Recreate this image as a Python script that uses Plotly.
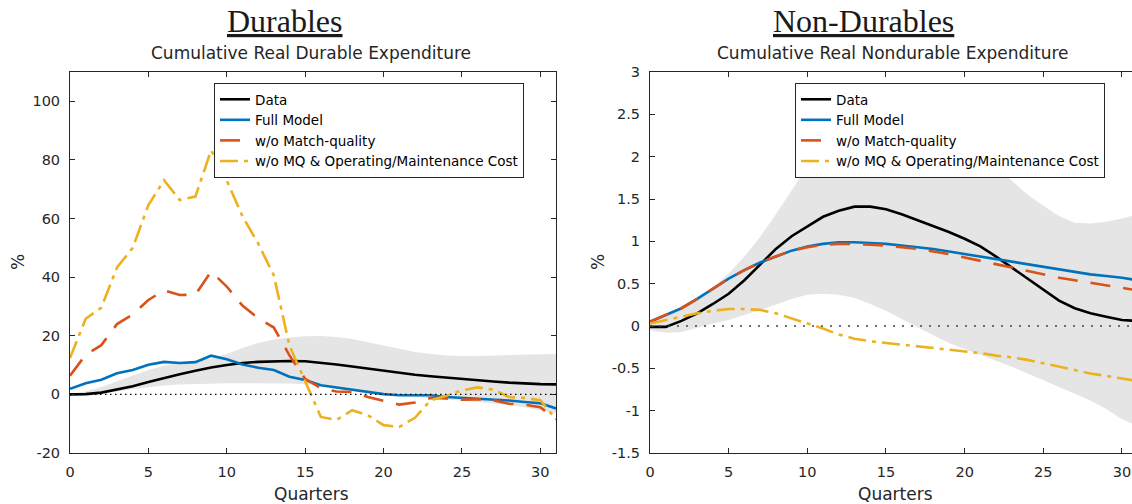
import plotly.graph_objects as go

# Quarters after the shock
quarters = list(range(32))

# ---- Durables: cumulative real durable expenditure (%) ----
dur_data = [0.0, 0.1, 0.6, 1.6, 2.8, 4.2, 5.6, 6.9, 8.1, 9.2, 10.0, 10.7, 11.1, 11.3, 11.4, 11.3,
            10.8, 10.2, 9.5, 8.8, 8.0, 7.3, 6.7, 6.2, 5.7, 5.2, 4.8, 4.4, 4.0, 3.7, 3.5, 3.4]
dur_full = [1.9, 3.8, 5.0, 7.2, 8.3, 10.1, 11.1, 10.7, 11.0, 13.2, 12.0, 10.2, 9.1, 8.3, 6.0, 4.9,
            3.1, 2.3, 1.7, 0.9, 0.1, -0.3, -0.3, -0.3, -0.9, -1.2, -1.5, -1.7, -2.1, -2.6, -3.0, -4.8]
dur_no_mq = [6.4, 13.5, 16.8, 24.0, 27.3, 32.2, 35.5, 33.9, 34.0, 41.9, 36.8, 30.3, 26.0, 22.8, 13.3, 5.3,
             2.1, 1.0, 0.8, -0.9, -2.2, -3.5, -2.8, -1.2, -1.4, -1.8, -1.7, -2.0, -3.2, -3.5, -4.4, -8.5]
dur_no_mq_om = [12.4, 25.8, 29.6, 43.3, 50.0, 64.6, 73.1, 66.3, 67.5, 83.3, 73.0, 60.8, 51.5, 40.6, 16.6, 4.5,
                -7.7, -8.7, -5.4, -7.1, -10.5, -11.1, -8.0, -2.0, -0.5, 1.4, 2.4, 1.6, -0.9, -1.2, -2.0, -8.5]
dur_band_hi = [0.2, 1.0, 2.5, 4.5, 6.5, 8.3, 9.8, 10.8, 11.5, 12.2, 13.8, 15.8, 17.5, 18.7, 19.4, 19.8,
               19.9, 19.6, 18.9, 17.8, 16.6, 15.5, 14.5, 13.8, 13.3, 13.1, 13.1, 13.2, 13.4, 13.5, 13.7, 13.8]
dur_band_lo = [-0.2, -0.2, 0.3, 1.0, 1.8, 2.5, 3.0, 3.4, 3.6, 3.7, 3.8, 3.8, 3.8, 3.8, 3.7, 3.5,
               3.0, 2.2, 1.3, 0.6, 0.0, -0.5, -1.0, -1.4, -1.8, -2.2, -2.6, -3.0, -3.6, -4.4, -5.4, -6.5]

# ---- Non-durables: cumulative real nondurable expenditure (%) ----
nd_data = [-0.01, -0.01, 0.06, 0.15, 0.26, 0.38, 0.54, 0.72, 0.91, 1.06, 1.18, 1.29, 1.36, 1.41, 1.41, 1.38,
           1.32, 1.25, 1.18, 1.11, 1.03, 0.94, 0.82, 0.69, 0.55, 0.42, 0.30, 0.21, 0.15, 0.11, 0.07, 0.06]
nd_full = [0.05, 0.13, 0.21, 0.32, 0.44, 0.56, 0.66, 0.75, 0.82, 0.89, 0.94, 0.97, 0.99, 0.99, 0.98, 0.97,
           0.95, 0.93, 0.91, 0.88, 0.85, 0.82, 0.79, 0.76, 0.73, 0.70, 0.67, 0.64, 0.61, 0.59, 0.57, 0.54]
nd_no_mq = [0.05, 0.13, 0.21, 0.32, 0.44, 0.56, 0.66, 0.75, 0.82, 0.89, 0.93, 0.96, 0.97, 0.97, 0.96, 0.95,
            0.93, 0.91, 0.88, 0.85, 0.81, 0.77, 0.73, 0.69, 0.65, 0.61, 0.57, 0.54, 0.51, 0.48, 0.45, 0.42]
nd_no_mq_om = [0.03, 0.07, 0.11, 0.15, 0.18, 0.20, 0.20, 0.19, 0.15, 0.09, 0.03, -0.03, -0.10, -0.15, -0.18, -0.20,
               -0.22, -0.24, -0.26, -0.28, -0.30, -0.32, -0.35, -0.37, -0.40, -0.44, -0.48, -0.52, -0.56, -0.59, -0.62, -0.65]
nd_band_hi = [0.03, 0.12, 0.22, 0.32, 0.45, 0.62, 0.82, 1.05, 1.32, 1.6, 1.88, 2.1, 2.3, 2.45, 2.55, 2.6,
              2.6, 2.55, 2.45, 2.35, 2.2, 2.05, 1.88, 1.71, 1.55, 1.42, 1.3, 1.22, 1.21, 1.23, 1.27, 1.32]
nd_band_lo = [-0.05, -0.08, -0.07, -0.02, 0.03, 0.07, 0.13, 0.19, 0.25, 0.32, 0.37, 0.38, 0.37, 0.33, 0.26, 0.18,
              0.09, -0.01, -0.11, -0.2, -0.27, -0.34, -0.41, -0.48, -0.56, -0.64, -0.72, -0.80, -0.88, -0.98, -1.1, -1.18]

series_names = ["Data", "Full Model", "w/o Match-quality", "w/o MQ & Operating/Maintenance Cost"]

# Axis ticks
x_ticks = [0, 5, 10, 15, 20, 25, 30]
dur_y_ticks = [-20, 0, 20, 40, 60, 80, 100]
dur_y_labels = ["-20", "0", "20", "40", "60", "80", "100"]
nd_y_ticks = [-1.5, -1, -0.5, 0, 0.5, 1, 1.5, 2, 2.5, 3]
nd_y_labels = ["-1.5", "-1", "-0.5", "0", "0.5", "1", "1.5", "2", "2.5", "3"]

# MATLAB default palette
BLACK = "#000000"
BLUE = "#0072BD"
RED = "#D95319"
YELLOW = "#EDB120"
BAND = "#E5E5E5"
AXIS = "#262626"
SANS = "DejaVu Sans"
SERIF = "Liberation Serif"

styles = [
    dict(color=BLACK, width=2.6, dash="solid"),
    dict(color=BLUE, width=2.6, dash="solid"),
    dict(color=RED, width=2.6, dash="20px,13px"),
    dict(color=YELLOW, width=2.6, dash="18px,6px,4px,6px"),
]

fig = go.Figure()


def add_panel(xa, ya, legend, band_hi, band_lo, series):
    # confidence band as a closed polygon
    fig.add_trace(go.Scatter(
        x=quarters + quarters[::-1], y=band_hi + band_lo[::-1],
        fill="toself", fillcolor=BAND, line=dict(width=0), mode="lines",
        showlegend=False, hoverinfo="skip", xaxis=xa, yaxis=ya))
    for name, vals, st in zip(series_names, series, styles):
        fig.add_trace(go.Scatter(
            x=quarters, y=vals, mode="lines", name=name, line=st,
            xaxis=xa, yaxis=ya, legend=legend))


add_panel("x", "y", "legend", dur_band_hi, dur_band_lo,
          [dur_data, dur_full, dur_no_mq, dur_no_mq_om])
add_panel("x2", "y2", "legend2", nd_band_hi, nd_band_lo,
          [nd_data, nd_full, nd_no_mq, nd_no_mq_om])

W, H = 1132, 504
y_dom = [51 / H, 432 / H]

axis_common = dict(
    showline=True, linecolor=AXIS, linewidth=1, ticks="inside", ticklen=5,
    tickcolor=AXIS, tickwidth=1, showgrid=False, zeroline=False,
    ticklabelstandoff=6, automargin=False,
    tickfont=dict(family=SANS, size=14.5, color=AXIS),
)

legend_common = dict(
    bgcolor="white", bordercolor=AXIS, borderwidth=1,
    font=dict(family=SANS, size=13.5, color="black"),
    xanchor="left", yanchor="top", tracegroupgap=0,
)

fig.update_layout(
    width=W, height=H, autosize=False,
    margin=dict(l=0, r=0, t=0, b=0, pad=0, autoexpand=False),
    paper_bgcolor="white", plot_bgcolor="white",
    showlegend=True,
    xaxis=dict(domain=[70 / W, 556 / W], range=[0, 31], tickvals=x_ticks,
               mirror="allticks", anchor="y", **axis_common),
    yaxis=dict(domain=y_dom, range=[-20, 110], tickvals=dur_y_ticks, ticktext=dur_y_labels,
               mirror="allticks", anchor="x", **axis_common),
    xaxis2=dict(domain=[650 / W, 1.0], range=[0, 30.64], tickvals=x_ticks,
                mirror="allticks", anchor="y2", **axis_common),
    yaxis2=dict(domain=y_dom, range=[-1.5, 3], tickvals=nd_y_ticks, ticktext=nd_y_labels,
                mirror=False, anchor="x2", **axis_common),
    legend=dict(x=214 / W, y=1 - 83 / H, **legend_common),
    legend2=dict(x=795 / W, y=1 - 83 / H, **legend_common),
)

# zero reference lines
fig.add_shape(type="line", xref="x domain", yref="y", x0=0, x1=1, y0=0, y1=0,
              line=dict(color="black", width=1.3, dash="1.5px,3.5px"), layer="above")
fig.add_shape(type="line", xref="x2 domain", yref="y2", x0=0, x1=1, y0=0, y1=0,
              line=dict(color="#444444", width=1.6, dash="2px,7px"), layer="above")

# panel headings, subtitles and axis titles
texts = [
    ("<u>Durables</u>", 285, 21, SERIF, 32, 0),
    ("<u>Non-Durables</u>", 863, 21, SERIF, 32, 0),
    ("Cumulative Real Durable Expenditure", 311, 53, SANS, 17, 0),
    ("Cumulative Real Nondurable Expenditure", 893, 53, SANS, 17, 0),
    ("Quarters", 311, 494, SANS, 17, 0),
    ("Quarters", 895, 494, SANS, 17, 0),
    ("%", 18, 262, SANS, 17, -90),
    ("%", 598, 262, SANS, 17, -90),
]
for txt, px, py, fam, size, ang in texts:
    fig.add_annotation(text=txt, xref="paper", yref="paper", x=px / W, y=1 - py / H,
                       xanchor="center", yanchor="middle", showarrow=False, textangle=ang,
                       font=dict(family=fam, size=size, color="#1a1a1a" if fam == SERIF else AXIS))

# page without default body margin or scrollbars, so the figure fills the window exactly
page_css = ("document.documentElement.style.margin='0';document.documentElement.style.padding='0';"
            "document.documentElement.style.overflow='hidden';"
            "document.body.style.margin='0';document.body.style.padding='0';"
            "document.body.style.overflow='hidden';")
fig.write_html("out.html", post_script=page_css, config={"responsive": False})
